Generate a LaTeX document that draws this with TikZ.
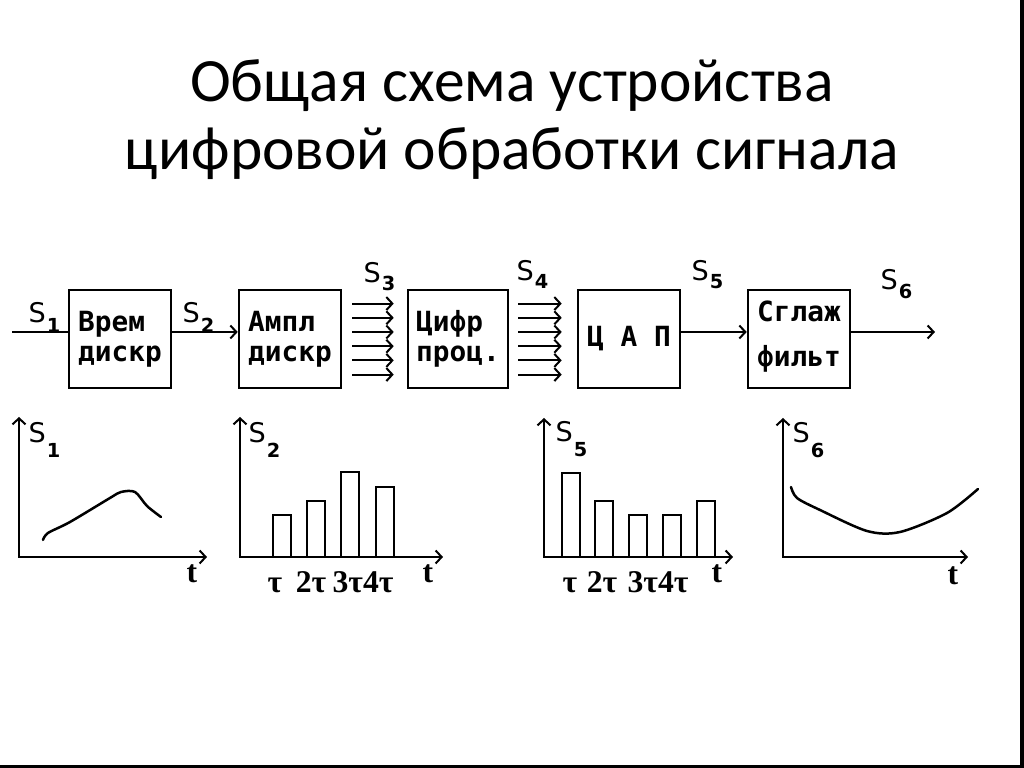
\documentclass[tikz,border=0pt]{standalone}
\usepackage{fontspec}
\setmainfont{Carlito}
\newfontfamily\pixfont{DejaVu Sans Mono}
\newfontfamily\sigfont{DejaVu Sans}
\newfontfamily\serfont{Liberation Serif}
\usetikzlibrary{arrows.meta,positioning}

% signal name with a dropped index
\newcommand{\sig}[2][2.8pt]{S\kern0.3pt\raisebox{-#1}{\fontsize{5.5}{5.5}\selectfont\bfseries #2}}

\tikzset{
  block/.style={draw, line width=0.025cm, minimum width=1.02cm, minimum height=0.98cm,
    inner sep=0pt, align=left, font=\pixfont\bfseries\fontsize{7.9}{8.6}\selectfont},
  wire/.style={line width=0.02cm, -{Straight Barb[length=0.06cm,width=0.13cm]}},
  siglabel/.style={inner sep=0pt, anchor=base west, font=\sigfont\fontsize{7.7}{8}\selectfont},
  ticklabel/.style={inner sep=0pt, anchor=base, font=\serfont\bfseries\fontsize{9}{10}\selectfont},
  axis/.style={line width=0.02cm, {Straight Barb[length=0.06cm,width=0.13cm]}-{Straight Barb[length=0.06cm,width=0.13cm]}},
  bar/.style={line width=0.02cm},
  curve/.style={line width=0.025cm, line join=round, line cap=round}
}

\begin{document}
\begin{tikzpicture}[x=0.01cm,y=-0.01cm]
  \useasboundingbox (0,0) rectangle (1024,768);

  % Title
  \node[anchor=base] (title1) at (512,102) {\fontsize{17.5}{21}\selectfont Общая схема устройства};
  \node[anchor=base] (title2) at (512,170) {\fontsize{17.5}{21}\selectfont цифровой обработки сигнала};

  % Blocks of the chain
  \node[block] (vrem) at (120,339) {Врем\\дискр};
  \node[block] (ampl) at (290,339) {Ампл\\дискр};
  \node[block, minimum width=1.0cm] (cifr) at (458,339) {Цифр\\проц.};
  \node[block] (cap) at (629,339) {Ц А П};
  \node[block, text depth=3pt] (sglazh) at (799,339) {Сглаж\\[4pt]фильт};

  % Wires
  \coordinate (mid) at (0,332);
  \coordinate (inp) at (12,332);
  \coordinate (outp) at (935,332);
  \draw[line width=0.02cm] (inp) -- (vrem.west |- mid);
  \draw[wire] (vrem.east |- mid) -- (ampl.west |- mid);
  \draw[wire] (cap.east |- mid) -- (sglazh.west |- mid);
  \draw[wire] (sglazh.east |- mid) -- (outp);

  % Parallel code lines S3 and S4
  \foreach \k in {-2,...,3} {
    \draw[wire] ([xshift=0.10cm,yshift={(7-14.2*\k)*0.01cm}]ampl.east)
             -- ([xshift=-0.13cm,yshift={(7-14.2*\k)*0.01cm}]cifr.west);
    \draw[wire] ([xshift=0.09cm,yshift={(7-14.2*\k)*0.01cm}]cifr.east)
             -- ([xshift=-0.15cm,yshift={(7-14.2*\k)*0.01cm}]cap.west);
  }

  % Signal names on the chain
  \node[siglabel] (s1) at (28,323) {\sig{1}};
  \node[siglabel] (s2) at (182,323) {\sig{2}};
  \node[siglabel] (s3) at (363,283) {\sig[2pt]{3}};
  \node[siglabel] (s4) at (516,281) {\sig[2pt]{4}};
  \node[siglabel] (s5) at (691,281) {\sig[2pt]{5}};
  \node[siglabel] (s6) at (880,290) {\sig[2.5pt]{6}};

  % Graph S1
  \draw[axis] (19,417) |- (207,557);
  \draw[curve] plot[smooth] coordinates {(43,540) (48,533) (70,522) (110,498) (121,492) (135,492) (147,506) (161,517)};
  \node[siglabel] (g1) at (28,443) {\sig[4pt]{1}};
  \node[ticklabel] (t1) at (192,583) {t};

  % Graph S2
  \draw[axis] (240,417) |- (443,557);
  \foreach \xl/\top in {273/515,307/501,341/472,376/487}
    \draw[bar] (\xl,557) |- (\xl+18,\top) -- (\xl+18,557);
  \node[siglabel] (g2) at (248,443) {\sig[4pt]{2}};
  \node[ticklabel] (tau21) at (275,593) {τ};
  \node[ticklabel] (tau22) at (311,593) {2τ};
  \node[ticklabel] (tau23) at (363,593) {3τ4τ};
  \node[ticklabel] (t2) at (428,583) {t};

  % Graph S5
  \draw[axis] (544,418) |- (733,557);
  \foreach \xl/\top in {562/473,595/501,629/515,663/515,697/501}
    \draw[bar] (\xl,557) |- (\xl+18,\top) -- (\xl+18,557);
  \node[siglabel] (g3) at (555,442) {\sig[4pt]{5}};
  \node[ticklabel] (tau31) at (570,593) {τ};
  \node[ticklabel] (tau32) at (602,593) {2τ};
  \node[ticklabel] (tau33) at (658,593) {3τ4τ};
  \node[ticklabel] (t3) at (717,583) {t};

  % Graph S6
  \draw[axis] (783,418) |- (968,557);
  \draw[curve] plot[smooth] coordinates {(791,487) (797,498) (820,510) (867,531) (900,532) (947,513) (978,489)};
  \node[siglabel] (g4) at (792,443) {\sig[4pt]{6}};
  \node[ticklabel] (t4) at (953,585) {t};

  % Frame edges
  \fill (1020,0) rectangle (1024,768);
  \fill (0,765) rectangle (1024,768);
\end{tikzpicture}
\end{document}
